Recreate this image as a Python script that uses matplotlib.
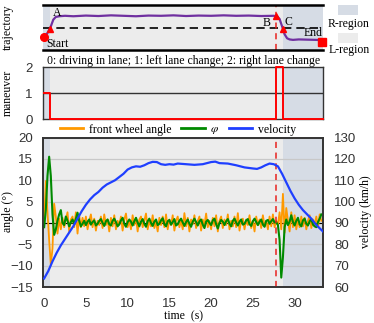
import numpy as np
import matplotlib
matplotlib.use("Agg")
import matplotlib.pyplot as plt
from matplotlib.patches import Rectangle

plt.rcParams["mathtext.fontset"] = "stix"

# ---------------- data ----------------
t_step = 0.2
front_wheel = [0, 9.8, 2.5, -4, -9.8,
               -6, 4.5, 1.5, -2.5, 1,
               -1.5, 1.2, -1, 0.8, 2.5,
               -2, 0.8, 1.5, -1, 2.5,
               -2.5, 1.8, -1, 1.2, -0.8,
               1.5, -1.5, 0.5, 2, -1,
               1, -1.8, 0.5, -0.5, 1.5,
               -1.2, 2, -0.5, 0.8, -2,
               1.2, -0.8, 1.8, -1.5, 0.5,
               -0.5, 1.5, -1.8, 0.8, 2.2,
               -1, 0.5, -1.5, 1.8, -0.5,
               1.2, -2, 0.8, 1.5, -1,
               0.5, 2.2, -1.5, 0.5, -0.8,
               1.8, -1.2, 0.3, -2, 1.2,
               -0.5, 1.5, -1, 2, -1.5,
               0.8, -0.5, 1.8, -1.8, 0.5,
               1.5, -1, 0.5, -1.5, 2.3,
               -0.8, 1.2, -2, 0.8, -0.3,
               1.8, -1.2, 0.5, 1.5, -1.8,
               0.8, -0.5, 2.2, -1, 0.5,
               -1.5, 1.2, -0.8, 1.8, -2,
               0.5, 1.5, -1.2, 0.8, -0.5,
               2, -1.5, 0.5, -0.8, 1.5,
               -1, 2.3, -1.8, 0.5, 1,
               -1.5, 0.8, -0.5, 1.8, -1.2,
               0.5, -2, 1.5, -0.5, 0.8,
               -1.2, 1.8, -0.8, 0.5, -1.5,
               1.5, -0.8, 2, -1, 0.5,
               -0.5, 2.5, -1.5, 6.8, -2.3,
               3.5, 0.5, -2, 2.5, -1,
               1.8, -1.5, 0.8, -1, 1.5,
               -0.8, 1.2, -1.5, 0.5, 1.8,
               -1.2, 0.8, -0.5, 1.5, -1,
               2, 0.5]
phi = [-1, 3, 11, 15.5, 11,
       2, -2.8, -1.5, 0.5, 2,
       3, 0, -0.5, 1.5, 0.5,
       -0.8, 0.2, 0.8, -0.3, 1,
       2.4, 0.5, -0.8, -0.2, 0.5,
       -0.5, 0.3, 0.8, -0.4, 0.2,
       0.6, -0.6, -0.2, 0.5, 0.9,
       0, -0.7, 0.4, 0.8, -0.3,
       -0.6, 0.5, 1, 0.2, -0.8,
       -0.3, 0.6, 1.2, -0.2, -0.9,
       0.2, 0.8, 0.3, -0.6, 0.4,
       1.2, 0.1, -0.8, 0.3, 0.9,
       -0.2, -0.9, 0.4, 1, 0,
       -0.7, 0.3, 0.8, -0.5, -0.2,
       0.6, 1.1, -0.3, -0.8, 0.4,
       0.7, -0.4, 0.2, 0.9, -0.6,
       -0.3, 0.5, 1, 0.1, -0.7,
       0.2, 0.8, -0.2, -0.9, 0.3,
       1, 0.2, -0.6, 0.4, 0.8,
       -0.4, -1.2, 0.3, 0.7, 0,
       -0.5, 0.6, 1, -0.3, -1.3,
       0, 0.7, 0.3, -0.5, 0.4,
       0.9, -0.2, -0.8, 0.5, 1,
       0.1, -0.6, 0.3, 0.8, -0.4,
       -0.2, 0.6, 0.9, -0.3, -0.7,
       0.4, 1, 0.2, -0.5, 0.3,
       0.8, -0.4, -0.9, 0.5, 0.7,
       -0.2, 0.4, 0.9, 0.1, 0.2,
       -0.5, -4, -12.8, -8, -1,
       0.8, -0.5, 0.3, 1.8, 0.2,
       -0.6, 0.5, 1.2, -0.3, -0.8,
       0.6, 1, -0.2, -0.6, 0.4,
       0.9, -0.4, -0.8, -1, 0.2,
       1, 2]

vel_t = [0, 0.5, 1, 1.5, 2, 2.5, 3, 3.5, 4, 4.5, 5, 5.5, 6, 6.5, 7, 7.5, 8, 8.5,
         9, 9.5, 10, 10.5, 11, 11.5, 12, 12.5, 13, 13.5, 14, 14.5, 15, 15.5, 16,
         17, 18, 19, 20, 20.5, 21, 22, 23, 24, 25, 25.5, 26, 26.5, 27, 27.5, 28,
         28.5, 29, 29.5, 30, 30.5, 31, 31.5, 32, 32.5, 33, 33.4]
velocity = [64, 67.5, 72, 76, 79.5, 82.5, 85.5, 88.5, 92, 95.5, 98.5, 101, 103,
            104.5, 106.5, 108, 109, 110, 111.5, 113, 115, 116, 116.5, 116.3, 117,
            118, 118.6, 118.5, 117.5, 117.2, 117.5, 117.3, 117.8, 117.5, 117.2,
            117.5, 118.5, 118.7, 118, 117.8, 117, 116, 115.5, 115.3, 116, 117,
            117.8, 117.5, 116.5, 113, 109, 105, 101.5, 98.5, 96, 94, 92, 89.5,
            87.5, 86]

traj_t = [0, 0.3, 0.5, 0.7, 0.9, 1.1, 1.4, 1.8, 2.5, 3.5, 5, 6.5, 8, 9.5, 11,
          12.5, 14, 15.5, 17, 18.5, 20, 21.5, 23, 24.5, 26, 27.5, 27.9, 28.2,
          28.5, 28.8, 29.1, 29.4, 29.8, 30.5, 31.5, 32.5, 33.2]
traj_y = [-0.41, -0.3, -0.18, -0.05, 0.15, 0.35, 0.47, 0.5, 0.52, 0.5, 0.53,
          0.51, 0.54, 0.52, 0.5, 0.53, 0.52, 0.54, 0.51, 0.53, 0.52, 0.54, 0.52,
          0.53, 0.51, 0.52, 0.5, 0.38, 0.05, -0.3, -0.48, -0.53, -0.55, -0.53,
          -0.54, -0.55, -0.56]

man_t = [0, 0.7, 27.8, 28.55, 33.4]
man_v = [1, 0, 2, 0, 0]

r_regions = [(-0.1, 0.7), (28.6, 33.4)]
event_t = 27.8
points_t = {"A": 0.72, "B": 27.8, "C": 28.55}
points_y = {"A": -0.05, "B": 0.51, "C": -0.05}
start_pt = (0, -0.41)
end_pt = (33.3, -0.63)

# ---------------- style ----------------
L_COL = "#ececec"
R_COL = "#d6dce5"
SERIF = "Liberation Serif"
SANS = "Liberation Sans"
TICK_COL = "#333333"
XMIN, XMAX = -0.1, 33.4

W, H = 374, 323
fig = plt.figure(figsize=(W / 100, H / 100), dpi=100)

def ax_rect(l, t, r, b):
    return [l / W, 1 - b / H, (r - l) / W, (b - t) / H]

def shade(ax):
    ax.set_facecolor(L_COL)
    for a, b in r_regions:
        ax.axvspan(a, b, color=R_COL, lw=0, zorder=0)

def style_ticks(labels):
    for lab in labels:
        lab.set_family(SANS)
        lab.set_color(TICK_COL)

# ---- top: trajectory ----
ax1 = fig.add_axes(ax_rect(43.3, 5, 323, 50))
shade(ax1)
ax1.set_xlim(XMIN, XMAX)
ax1.set_ylim(-1, 1)
ax1.axhline(0, color="k", lw=1.2, ls=(0, (5, 3)), zorder=1)
ax1.axvline(event_t, color="#e8231f", lw=1.1, ls=(0, (4, 3)), zorder=2)
ax1.plot(traj_t, traj_y, color="#7030a0", lw=1.6, zorder=3)
ax1.plot(*start_pt, "o", color="red", ms=5.5, clip_on=False, zorder=5)
ax1.plot(*end_pt, "s", color="red", ms=5.5, clip_on=False, zorder=5)
for k in points_t:
    ax1.plot(points_t[k], points_y[k], "^", color="red", ms=5, zorder=5)
ax1.text(1.5, 0.66, "A", family=SERIF, fontsize=8.5, ha="center", va="center")
ax1.text(26.6, 0.19, "B", family=SERIF, fontsize=8.5, ha="center", va="center")
ax1.text(29.3, 0.26, "C", family=SERIF, fontsize=8.5, ha="center", va="center")
ax1.text(0.3, -0.73, "Start", family=SERIF, fontsize=8.5, ha="left", va="center")
ax1.text(32.2, -0.26, "End", family=SERIF, fontsize=8.5, ha="center", va="center")
for s in ["left", "right"]:
    ax1.spines[s].set_visible(False)
for s in ["top", "bottom"]:
    ax1.spines[s].set_linewidth(1.8)
ax1.set_xticks([])
ax1.set_yticks([])
fig.text(8 / W, 1 - 27 / H, "trajectory", family=SERIF, fontsize=8.5,
         rotation=90, ha="center", va="center")

# legend patches on the right
fig.patches.append(Rectangle((338 / W, 1 - 15 / H), 20 / W, 10 / H,
                             transform=fig.transFigure, color=R_COL, lw=0))
fig.text(349 / W, 1 - 24 / H, "R-region", family=SERIF, fontsize=8.5,
         ha="center", va="center")
fig.patches.append(Rectangle((338 / W, 1 - 43 / H), 20 / W, 10 / H,
                             transform=fig.transFigure, color=L_COL, lw=0))
fig.text(349 / W, 1 - 50 / H, "L-region", family=SERIF, fontsize=8.5,
         ha="center", va="center")

# ---- middle: maneuver ----
ax2 = fig.add_axes(ax_rect(43.3, 67, 323, 119))
shade(ax2)
ax2.set_xlim(XMIN, XMAX)
ax2.set_ylim(0, 2)
ax2.axhline(1, color="#333333", lw=1.0, zorder=1)
ax2.step(man_t, man_v, where="post", color="red", lw=1.4, zorder=3, clip_on=False)
ax2.set_xticks([])
ax2.set_yticks([0, 1, 2])
ax2.tick_params(axis="y", length=0, pad=7.5, labelsize=9.5)
style_ticks(ax2.get_yticklabels())
for s in ax2.spines.values():
    s.set_color("#333333")
    s.set_linewidth(1.0)
ax2.set_title("0: driving in lane; 1: left lane change; 2: right lane change",
              family=SERIF, fontsize=8.5, pad=2)
fig.text(8 / W, 1 - 93 / H, "maneuver", family=SERIF, fontsize=8.5,
         rotation=90, ha="center", va="center")

# ---- bottom: angles & velocity ----
ax3 = fig.add_axes(ax_rect(43.3, 137.5, 323, 287))
shade(ax3)
ax3.set_xlim(XMIN, XMAX)
ax3.set_ylim(-15, 20)
ax3.set_yticks(np.arange(-15, 21, 5))
ax3.grid(axis="y", color="#c8c8c8", lw=0.9)
ax3.set_axisbelow(True)
ax3.axhline(0, color="k", lw=0.8, zorder=1)
ax3.axvline(event_t, color="#e8231f", lw=1.1, ls=(0, (4, 3)), zorder=6)
t_ang = np.arange(len(front_wheel)) * t_step
l1, = ax3.plot(t_ang, front_wheel, color="#ff9900", lw=1.3, zorder=3,
               label="front wheel angle")
l2, = ax3.plot(t_ang, phi, color="#008a00", lw=1.5, zorder=4, label=r"$\varphi$")
ax4 = ax3.twinx()
ax4.set_ylim(60, 130)
ax4.set_yticks(np.arange(60, 131, 10))
l3, = ax4.plot(vel_t, velocity, color="#1f3fff", lw=1.6, zorder=5,
               label="velocity")
ax3.set_xticks([0, 5, 10, 15, 20, 25, 30])
ax3.tick_params(axis="x", length=0, pad=8, labelsize=9.5)
ax3.tick_params(axis="y", length=0, pad=7.5, labelsize=9.5)
ax4.tick_params(axis="y", length=0, pad=8, labelsize=9.5)
style_ticks(ax3.get_xticklabels() + ax3.get_yticklabels() + ax4.get_yticklabels())
for a in (ax3, ax4):
    for s in a.spines.values():
        s.set_color("#333333")
        s.set_linewidth(1.2)
ax3.set_xlabel("time  (s)", family=SERIF, fontsize=8.5, labelpad=0)
fig.text(8 / W, 1 - 212 / H, "angle (°)", family=SERIF, fontsize=8.5,
         rotation=90, ha="center", va="center")
fig.text(366 / W, 1 - 212 / H, "velocity (km/h)", family=SERIF, fontsize=8.5,
         rotation=90, ha="center", va="center")
leg = fig.legend([l1, l2, l3], ["front wheel angle", r"$\varphi$", "velocity"],
                 loc="center", bbox_to_anchor=(178 / W, 1 - 130 / H), ncol=3,
                 frameon=False, prop={"family": SERIF, "size": 8.5},
                 handlelength=2.0, handletextpad=0.5, columnspacing=0.8,
                 borderpad=0, borderaxespad=0)
for h in leg.legend_handles:
    h.set_linewidth(2)

fig.savefig("out.png", dpi=100)
